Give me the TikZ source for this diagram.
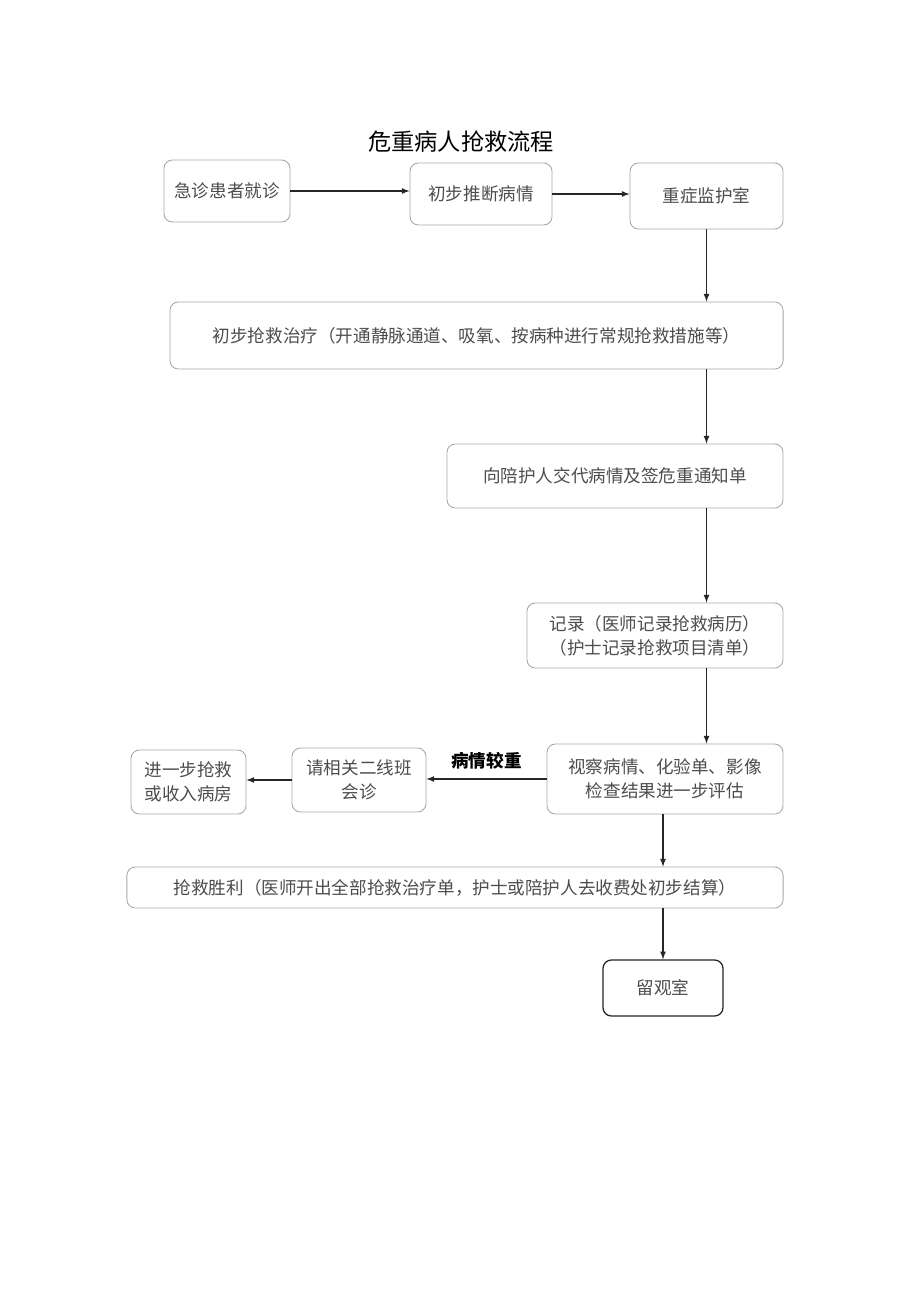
\documentclass[tikz,border=0pt]{standalone}
\usepackage{fontspec}
\setmainfont{Noto Sans CJK SC}
\usetikzlibrary{arrows}
\tikzset{
	box/.style={draw=black!35, rounded corners=6pt, line width=0.6pt, align=center, text=black!70, font=\fontsize{12.5pt}{17pt}\selectfont, inner sep=2pt},
	darkbox/.style={box, draw=black!85, line width=0.9pt},
	arr/.style={->, >=latex, line width=0.9pt, black!85}
}

\begin{document}
\begin{tikzpicture}[x=0.025cm, y=-0.025cm]
	\useasboundingbox (0,0) rectangle (920,1301);
	% --- title ---
	\node[font=\fontsize{16.5pt}{20pt}\selectfont] (title) at (461,142) {危重病人抢救流程};

	% --- top row ---
	\node[box, minimum width=3.15cm, minimum height=1.55cm] (visit) at (227,191) {急诊患者就诊};
	\node[box, minimum width=3.55cm, minimum height=1.55cm] (judge) at (481,194) {初步推断病情};
	\node[box, minimum width=3.825cm, minimum height=1.65cm] (icu) at (706.5,196) {重症监护室};

	% --- main column ---
	\node[box, minimum width=15.325cm, minimum height=1.675cm] (treat) at (476.5,335.5) {初步抢救治疗（开通静脉通道、吸氧、按病种进行常规抢救措施等）};
	\node[box, minimum width=8.4cm, minimum height=1.6cm] (notify) at (615,476) {向陪护人交代病情及签危重通知单};
	\node[box, minimum width=6.4cm, minimum height=1.625cm] (record) at (655,635.5) {记录（医师记录抢救病历）\\（护士记录抢救项目清单）};
	\node[box, minimum width=5.9cm, minimum height=1.75cm] (assess) at (665,779) {视察病情、化验单、影像\\检查结果进一步评估};

	% --- left branch ---
	\node[box, minimum width=3.35cm, minimum height=1.6cm] (consult) at (359,780) {请相关二线班\\会诊};
	\node[box, minimum width=2.875cm, minimum height=1.6cm] (ward) at (188.5,782) {进一步抢救\\或收入病房};

	% --- bottom ---
	\node[box, minimum width=16.4cm, minimum height=1.025cm] (success) at (455,887.5) {抢救胜利（医师开出全部抢救治疗单，护士或陪护人去收费处初步结算）};
	\node[darkbox, minimum width=3cm, minimum height=1.4cm] (observe) at (663,988) {留观室};

	\draw[arr] (visit.east) -- (visit.east -| judge.west);
	\draw[arr] (judge.east) -- (judge.east -| icu.west);
	\draw[arr] (icu.south) -- (icu.south |- treat.north);
	\draw[arr] (treat.south -| icu.south) -- (notify.north -| icu.south);
	\draw[arr] (notify.south -| icu.south) -- (record.north -| icu.south);
	\draw[arr] (record.south -| icu.south) -- (assess.north -| icu.south);
	\draw[arr] (assess.west) -- node[above=3pt, font=\fontsize{12.5pt}{15pt}\selectfont\bfseries, text=black] {病情较重} (assess.west -| consult.east);
	\draw[arr] (consult.west) -- (consult.west -| ward.east);
	\draw[arr] (assess.south -| observe) -- (success.north -| observe);
	\draw[arr] (success.south -| observe) -- (observe.north);

\end{tikzpicture}
\end{document}
